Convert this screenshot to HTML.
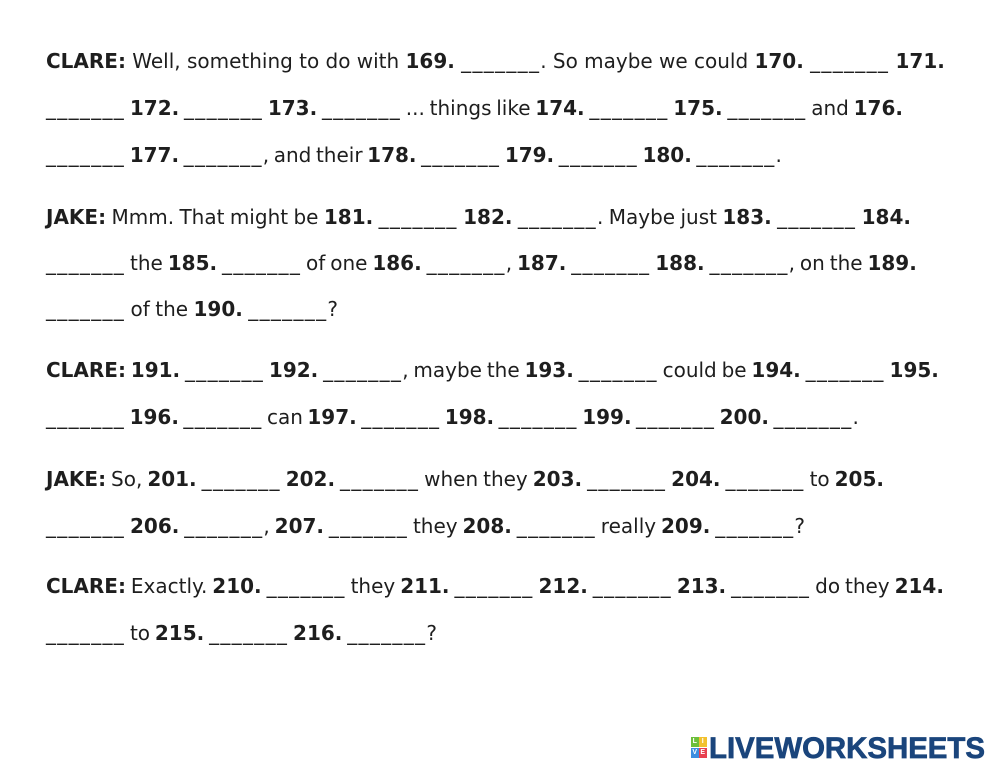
<!DOCTYPE html>
<html><head><meta charset="utf-8"><style>
html,body{margin:0;padding:0;background:#fff;}
body{width:999px;height:772px;position:relative;overflow:hidden;font-family:"DejaVu Sans","Liberation Sans",sans-serif;font-size:20px;color:#1e1e1e;}
.l{position:absolute;left:46px;display:flex;justify-content:space-between;flex-wrap:nowrap;white-space:nowrap;line-height:24px;height:24px;}
.l b{font-weight:bold;}
.u{letter-spacing:1.3px;}
.logo{position:absolute;left:709px;top:734px;font-family:"Liberation Sans",sans-serif;font-weight:bold;font-size:29.4px;line-height:29.4px;color:#1a457c;white-space:nowrap;-webkit-text-stroke:0.7px #1a457c;}
.sq{position:absolute;width:7.5px;height:10px;color:#fff;font-family:"Liberation Sans",sans-serif;font-size:7px;font-weight:bold;text-align:center;line-height:10px;}
</style></head><body>

<div class="l" style="top:49px;width:899px"><b>CLARE:</b><span>Well,</span><span>something</span><span>to</span><span>do</span><span>with</span><b>169.</b><span><span class="u">_______</span>.</span><span>So</span><span>maybe</span><span>we</span><span>could</span><b>170.</b><span class="u">_______</span><b>171.</b></div>

<div class="l" style="top:96px;width:857px"><span class="u">_______</span><b>172.</b><span class="u">_______</span><b>173.</b><span class="u">_______</span><span>...</span><span>things</span><span>like</span><b>174.</b><span class="u">_______</span><b>175.</b><span class="u">_______</span><span>and</span><b>176.</b></div>

<div class="l" style="top:143px;width:736px"><span class="u">_______</span><b>177.</b><span><span class="u">_______</span>,</span><span>and</span><span>their</span><b>178.</b><span class="u">_______</span><b>179.</b><span class="u">_______</span><b>180.</b><span><span class="u">_______</span>.</span></div>

<div class="l" style="top:205px;width:865px"><b>JAKE:</b><span>Mmm.</span><span>That</span><span>might</span><span>be</span><b>181.</b><span class="u">_______</span><b>182.</b><span><span class="u">_______</span>.</span><span>Maybe</span><span>just</span><b>183.</b><span class="u">_______</span><b>184.</b></div>

<div class="l" style="top:251px;width:871px"><span class="u">_______</span><span>the</span><b>185.</b><span class="u">_______</span><span>of</span><span>one</span><b>186.</b><span><span class="u">_______</span>,</span><b>187.</b><span class="u">_______</span><b>188.</b><span><span class="u">_______</span>,</span><span>on</span><span>the</span><b>189.</b></div>

<div class="l" style="top:297px;width:292px"><span class="u">_______</span><span>of</span><span>the</span><b>190.</b><span><span class="u">_______</span>?</span></div>

<div class="l" style="top:358px;width:893px"><b>CLARE:</b><b>191.</b><span class="u">_______</span><b>192.</b><span><span class="u">_______</span>,</span><span>maybe</span><span>the</span><b>193.</b><span class="u">_______</span><span>could</span><span>be</span><b>194.</b><span class="u">_______</span><b>195.</b></div>

<div class="l" style="top:405px;width:813px"><span class="u">_______</span><b>196.</b><span class="u">_______</span><span>can</span><b>197.</b><span class="u">_______</span><b>198.</b><span class="u">_______</span><b>199.</b><span class="u">_______</span><b>200.</b><span><span class="u">_______</span>.</span></div>

<div class="l" style="top:467px;width:838px"><b>JAKE:</b><span>So,</span><b>201.</b><span class="u">_______</span><b>202.</b><span class="u">_______</span><span>when</span><span>they</span><b>203.</b><span class="u">_______</span><b>204.</b><span class="u">_______</span><span>to</span><b>205.</b></div>

<div class="l" style="top:514px;width:759px"><span class="u">_______</span><b>206.</b><span><span class="u">_______</span>,</span><b>207.</b><span class="u">_______</span><span>they</span><b>208.</b><span class="u">_______</span><span>really</span><b>209.</b><span><span class="u">_______</span>?</span></div>

<div class="l" style="top:574px;width:898px"><b>CLARE:</b><span>Exactly.</span><b>210.</b><span class="u">_______</span><span>they</span><b>211.</b><span class="u">_______</span><b>212.</b><span class="u">_______</span><b>213.</b><span class="u">_______</span><span>do</span><span>they</span><b>214.</b></div>

<div class="l" style="top:621px;width:391px"><span class="u">_______</span><span>to</span><b>215.</b><span class="u">_______</span><b>216.</b><span><span class="u">_______</span>?</span></div>

<div class="sq" style="left:691px;top:737px;background:#6cbf3a;">L</div>
<div class="sq" style="left:699px;top:737px;background:#f2c12e;">I</div>
<div class="sq" style="left:691px;top:748px;background:#3d8ee0;">V</div>
<div class="sq" style="left:699px;top:748px;background:#e8404f;">E</div>
<div class="logo">LIVEWORKSHEETS</div>

</body></html>
